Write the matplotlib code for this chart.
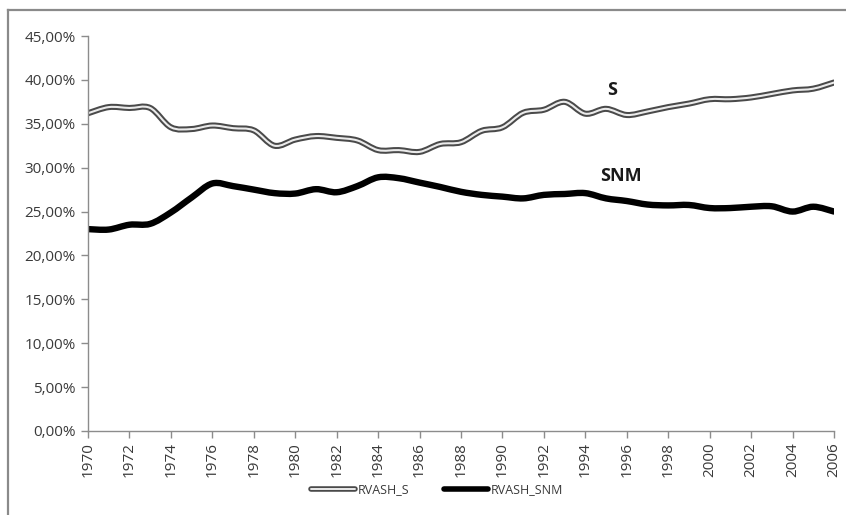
import numpy as np
import matplotlib
matplotlib.use("Agg")
import matplotlib.pyplot as plt
from matplotlib.path import Path
from matplotlib.patches import PathPatch
from matplotlib.lines import Line2D
from matplotlib.legend_handler import HandlerTuple
from matplotlib.ticker import FuncFormatter

years = list(range(1970, 2007))

rvash_s = [36.2, 36.9, 36.8, 36.8, 34.6, 34.4, 34.8, 34.5, 34.25, 32.5,
           33.2, 33.6, 33.4, 33.1, 32.0, 32.0, 31.8, 32.7, 32.9, 34.2,
           34.6, 36.25, 36.6, 37.5, 36.15, 36.7, 36.0, 36.4, 36.9, 37.3,
           37.8, 37.8, 38.0, 38.4, 38.8, 39.0, 39.7]

rvash_snm = [23.0, 22.95, 23.5, 23.6, 24.9, 26.6, 28.2, 27.9, 27.5, 27.1,
             27.05, 27.55, 27.2, 27.9, 28.9, 28.8, 28.3, 27.8, 27.25, 26.9,
             26.7, 26.5, 26.9, 27.0, 27.1, 26.5, 26.2, 25.8, 25.7, 25.75,
             25.4, 25.4, 25.55, 25.6, 25.0, 25.55, 25.0]

series_names = ["RVASH_S", "RVASH_SNM"]
y_ticks = list(range(0, 50, 5))
x_ticks = list(range(1970, 2007, 2))


def smooth_path(x, y):
    """Cubic Bezier path through every point (Catmull-Rom style tangents)."""
    pts = np.column_stack([x, y]).astype(float)
    n = len(pts)
    verts = [pts[0]]
    codes = [Path.MOVETO]
    for i in range(n - 1):
        p0 = pts[max(i - 1, 0)]
        p1 = pts[i]
        p2 = pts[i + 1]
        p3 = pts[min(i + 2, n - 1)]
        c1 = p1 + (p2 - p0) / 6.0
        c2 = p2 - (p3 - p1) / 6.0
        verts += [c1, c2, p2]
        codes += [Path.CURVE4] * 3
    return Path(np.array(verts), codes)


fig = plt.figure(figsize=(8.46, 5.15), dpi=100)
ax = fig.add_axes([88 / 846, 84 / 515, 746 / 846, 395 / 515])

# outer chart frame (top and left edges lie inside the image)
frame_x = 7.5 / 846
frame_y = 1 - 10 / 515
fig.add_artist(Line2D([frame_x, 1.0], [frame_y, frame_y], transform=fig.transFigure,
                      color="#8a8a8a", lw=1.6))
fig.add_artist(Line2D([frame_x, frame_x], [0.0, frame_y], transform=fig.transFigure,
                      color="#8a8a8a", lw=1.6))

# RVASH_S: hollow double line
p_s = smooth_path(years, rvash_s)
ax.add_patch(PathPatch(p_s, fill=False, edgecolor="#4a4a4a", lw=4.4,
                       capstyle="round", joinstyle="round"))
ax.add_patch(PathPatch(p_s, fill=False, edgecolor="#ebebeb", lw=1.5,
                       capstyle="round", joinstyle="round"))

# RVASH_SNM: solid black line
p_snm = smooth_path(years, rvash_snm)
ax.add_patch(PathPatch(p_snm, fill=False, edgecolor="#000000", lw=4.6,
                       capstyle="round", joinstyle="round"))

ax.set_xlim(1970, 2006)
ax.set_ylim(0, 45)
ax.set_xticks(x_ticks)
ax.set_yticks(y_ticks)
ax.yaxis.set_major_formatter(FuncFormatter(lambda v, _: f"{v:.2f}%".replace(".", ",")))
ax.set_xticklabels([str(t) for t in x_ticks], rotation=90)

for side in ("top", "right"):
    ax.spines[side].set_visible(False)
for side in ("left", "bottom"):
    ax.spines[side].set_color("#8c8c8c")
    ax.spines[side].set_linewidth(1.0)
ax.tick_params(axis="both", direction="out", length=5, width=1.0,
               color="#8c8c8c", labelcolor="#3a3a3a", labelsize=11)
ax.tick_params(axis="y", pad=4)
ax.tick_params(axis="x", pad=3)
for lab in ax.get_yticklabels() + ax.get_xticklabels():
    lab.set_fontfamily("Open Sans")

ax.text(1995.3, 38.9, "S", ha="center", va="center", fontsize=13,
        fontweight="bold", color="#1a1a1a", family="Open Sans")
ax.text(1995.7, 29.05, "SNM", ha="center", va="center", fontsize=13,
        fontweight="bold", color="#1a1a1a", family="Open Sans")

h_s = (Line2D([], [], color="#4a4a4a", lw=4.0, solid_capstyle="round"),
       Line2D([], [], color="#ebebeb", lw=1.4, solid_capstyle="round"))
h_snm = Line2D([], [], color="#000000", lw=4.0, solid_capstyle="round")
leg = fig.legend([h_s, h_snm], series_names,
                 handler_map={tuple: HandlerTuple(ndivide=1)},
                 loc="center", bbox_to_anchor=(437 / 846, 1 - 490 / 515),
                 ncol=2, frameon=False, handlelength=3.5, handletextpad=0.2,
                 columnspacing=2.8, prop={"family": "Open Sans", "size": 9})
for t in leg.get_texts():
    t.set_color("#3a3a3a")

fig.savefig("out.png", dpi=100)
